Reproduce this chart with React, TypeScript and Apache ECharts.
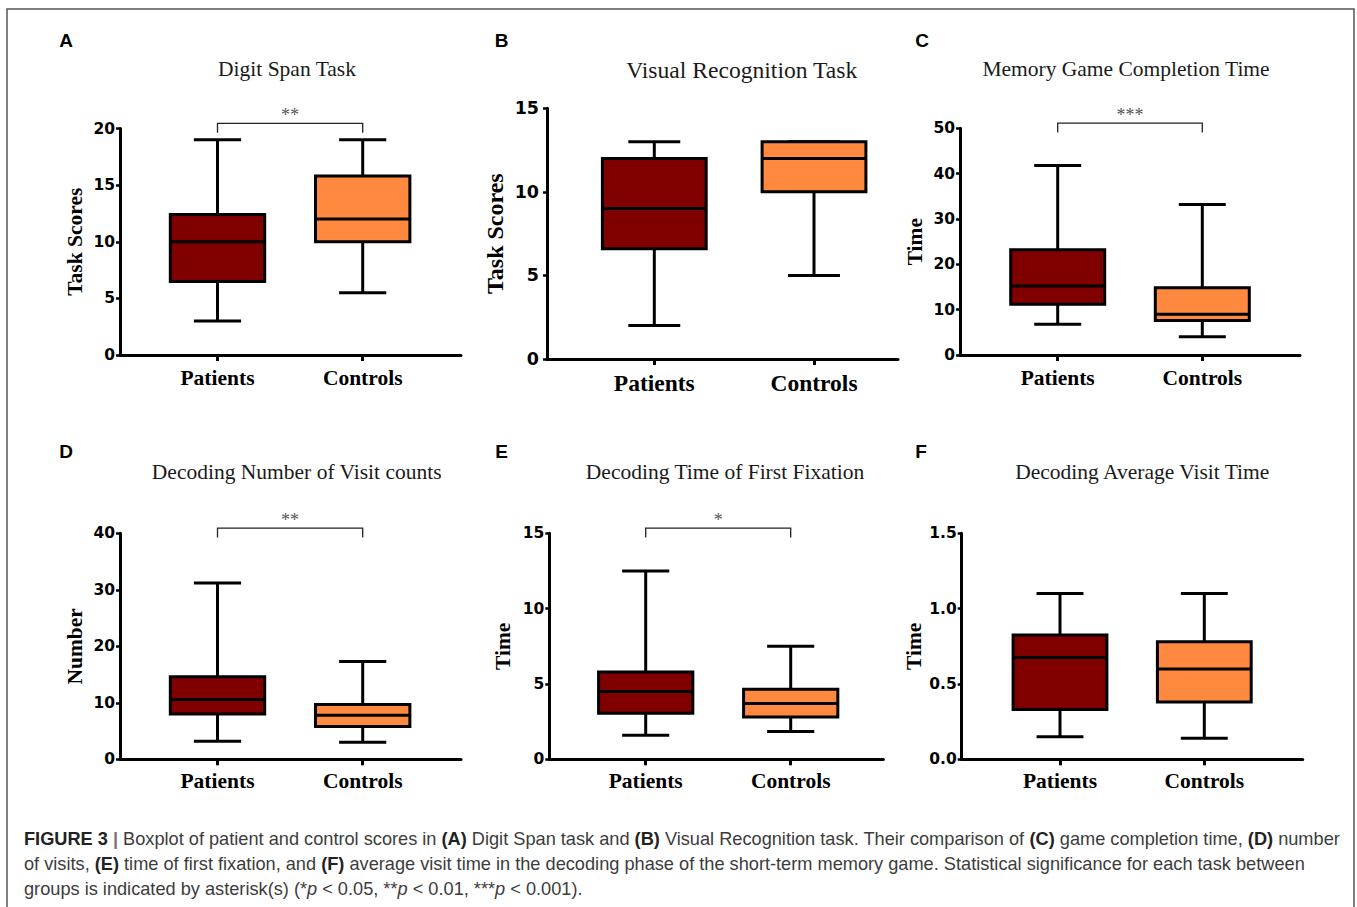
import React, { useEffect, useRef } from "react";
import * as echarts from "echarts";

// ---------- data ----------
const categories = ["Patients", "Controls"];
const panelLetters = ["A", "B", "C", "D", "E", "F"];
const panelTitles = [
  "Digit Span Task",
  "Visual Recognition Task",
  "Memory Game Completion Time",
  "Decoding Number of Visit counts",
  "Decoding Time of First Fixation",
  "Decoding Average Visit Time",
];
const yAxisNames = ["Task Scores", "Task Scores", "Time", "Number", "Time", "Time"];
const yAxisMax = [20, 15, 50, 40, 15, 1.5];
const yAxisStep = [5, 5, 10, 10, 5, 0.5];
const yAxisDecimals = [0, 0, 0, 0, 0, 1];
// [min, Q1, median, Q3, max]
const patientsStats = [
  [3, 6.5, 10, 12.4, 19],
  [2, 6.6, 9, 12, 13],
  [6.8, 11.2, 15.2, 23.2, 41.8],
  [3.2, 8.0, 10.6, 14.6, 31.2],
  [1.6, 3.05, 4.5, 5.8, 12.5],
  [0.15, 0.33, 0.675, 0.825, 1.1],
];
const controlsStats = [
  [5.5, 10, 12, 15.8, 19],
  [5, 10, 12, 13, 13],
  [4.0, 7.6, 9.0, 14.85, 33.2],
  [3.0, 5.8, 7.8, 9.7, 17.3],
  [1.85, 2.8, 3.7, 4.65, 7.5],
  [0.14, 0.38, 0.6, 0.78, 1.1],
];
const significance = ["**", "", "***", "**", "*", ""];

// ---------- layout / style ----------
const PAT_COLOR = "#800000";
const CON_COLOR = "#FF8A3F";
// L: y-axis x, R: x-axis end, T: top of y axis, B: x axis y, p1/p2: category centres
const layout = [
  { L: 120, R: 461, T: 128.5, B: 355, p1: 217.5, p2: 362.7, letter: [66, 40], title: [287, 69], big: false, nameGap: 34 },
  { L: 547, R: 898, T: 108.3, B: 359, p1: 654.3, p2: 814, letter: [501.5, 40], title: [741.7, 70], big: true, nameGap: 40 },
  { L: 960, R: 1300, T: 128.3, B: 355, p1: 1057.7, p2: 1202.3, letter: [922, 40], title: [1126, 69], big: false, nameGap: 34 },
  { L: 120, R: 461, T: 533.3, B: 759.3, p1: 217.5, p2: 362.7, letter: [66, 451.5], title: [296.7, 472.3], big: false, nameGap: 34 },
  { L: 549.3, R: 883.3, T: 533.3, B: 759.3, p1: 645.7, p2: 790.7, letter: [501.5, 451.5], title: [725, 472.3], big: false, nameGap: 35 },
  { L: 961.7, R: 1302.7, T: 533.3, B: 759.3, p1: 1060, p2: 1204.3, letter: [921, 451.5], title: [1142.3, 472.3], big: false, nameGap: 37 },
];

const SERIF = '"Liberation Serif", "Times New Roman", serif';
const SANS = '"Liberation Sans", Arial, sans-serif';
const CAP = 18.2;

function renderBox(params: any, api: any) {
  const x = api.value(0);
  const vMin = api.value(1);
  const vQ1 = api.value(2);
  const vMed = api.value(3);
  const vQ3 = api.value(4);
  const vMax = api.value(5);
  const unit = api.size([1, 0])[0];
  const bw = unit * 0.65;
  const cw = bw * 0.5;
  const [cx, yMin] = api.coord([x, vMin]);
  const yQ1 = api.coord([x, vQ1])[1];
  const yMed = api.coord([x, vMed])[1];
  const yQ3 = api.coord([x, vQ3])[1];
  const yMax = api.coord([x, vMax])[1];
  const fill = params.dataIndex === 0 ? PAT_COLOR : CON_COLOR;
  const ls = { stroke: "#000", lineWidth: 3 };
  return {
    type: "group",
    children: [
      { type: "line", shape: { x1: cx, y1: yMax, x2: cx, y2: yQ3 }, style: ls },
      { type: "line", shape: { x1: cx, y1: yQ1, x2: cx, y2: yMin }, style: ls },
      { type: "line", shape: { x1: cx - cw / 2, y1: yMax, x2: cx + cw / 2, y2: yMax }, style: ls },
      { type: "line", shape: { x1: cx - cw / 2, y1: yMin, x2: cx + cw / 2, y2: yMin }, style: ls },
      { type: "rect", shape: { x: cx - bw / 2, y: yQ3, width: bw, height: yQ1 - yQ3 }, style: { fill, stroke: "#000", lineWidth: 3 } },
      { type: "line", shape: { x1: cx - bw / 2, y1: yMed, x2: cx + bw / 2, y2: yMed }, style: ls },
    ],
  };
}

function makeBracketRenderer(sig: string) {
  return (params: any, api: any) => {
    const top = api.value(2);
    const a = api.coord([api.value(0), top]);
    const b = api.coord([api.value(1), top]);
    const y = a[1] - 5.2;
    const leg = 9.4;
    return {
      type: "group",
      children: [
        {
          type: "polyline",
          shape: { points: [[a[0], y + leg], [a[0], y], [b[0], y], [b[0], y + leg]] },
          style: { stroke: "#222", lineWidth: 1.3, fill: "none" },
        },
        {
          type: "text",
          style: {
            text: sig,
            x: (a[0] + b[0]) / 2,
            y: y - 8,
            align: "center",
            verticalAlign: "middle",
            fontFamily: SERIF,
            fontSize: 18,
            fill: "#555",
          },
        },
      ],
    };
  };
}

export default function App() {
  const ref = useRef<HTMLDivElement>(null);
  useEffect(() => {
    if (!ref.current) return;
    const chart = echarts.init(ref.current, null, { renderer: "svg" });

    const grids: any[] = [];
    const xAxes: any[] = [];
    const yAxes: any[] = [];
    const series: any[] = [];
    const graphics: any[] = [];

    layout.forEach((p, i) => {
      const unit = p.p2 - p.p1;
      const xmin = 1 - (p.p1 - p.L) / unit;
      const xmax = 2 + (p.R - p.p2) / unit;
      const tickFont = p.big ? 17.5 : 15.5;
      const labelFont = p.big ? 23.5 : 21.5;
      grids.push({ left: p.L, top: p.T, width: p.R - p.L, height: p.B - p.T, containLabel: false });
      xAxes.push({
        gridIndex: i,
        type: "value",
        min: xmin,
        max: xmax,
        axisLine: { show: true, onZero: false, lineStyle: { color: "#000", width: 3 } },
        axisTick: { show: true, customValues: [1, 2], length: 6, lineStyle: { color: "#000", width: 3 } },
        axisLabel: {
          customValues: [1, 2],
          formatter: (v: number) => categories[Math.round(v) - 1] || "",
          fontFamily: SERIF,
          fontWeight: "bold",
          fontSize: labelFont,
          color: "#000",
          margin: i < 3 ? 12 : 11,
        },
        splitLine: { show: false },
      });
      yAxes.push({
        gridIndex: i,
        type: "value",
        min: 0,
        max: yAxisMax[i],
        interval: yAxisStep[i],
        axisLine: { show: true, lineStyle: { color: "#000", width: 3 } },
        axisTick: { show: true, inside: false, length: 4, lineStyle: { color: "#000", width: 2.5 } },
        axisLabel: {
          formatter: (v: number) => v.toFixed(yAxisDecimals[i]),
          fontFamily: '"DejaVu Sans", sans-serif',
          fontWeight: "bold",
          fontSize: tickFont,
          color: "#000",
          margin: p.big ? 8 : 5,
        },
        splitLine: { show: false },
        name: yAxisNames[i],
        nameLocation: "middle",
        nameRotate: 90,
        nameGap: p.nameGap,
        nameTextStyle: { fontFamily: SERIF, fontWeight: "bold", fontSize: p.big ? 24 : 21.5, color: "#000" },
      });
      series.push({
        type: "custom",
        name: panelTitles[i],
        xAxisIndex: i,
        yAxisIndex: i,
        clip: false,
        renderItem: renderBox,
        encode: { x: 0, y: [1, 2, 3, 4, 5] },
        data: [
          [1, ...patientsStats[i]],
          [2, ...controlsStats[i]],
        ],
      });
      if (significance[i]) {
        series.push({
          type: "custom",
          xAxisIndex: i,
          yAxisIndex: i,
          clip: false,
          z: 5,
          encode: { x: [0, 1], y: 2 },
          renderItem: makeBracketRenderer(significance[i]),
          data: [[1, 2, yAxisMax[i]]],
        });
      }
      graphics.push({
        type: "text",
        x: p.letter[0],
        y: p.letter[1],
        style: {
          text: panelLetters[i],
          align: "center",
          verticalAlign: "middle",
          fontFamily: SANS,
          fontWeight: "bold",
          fontSize: 19,
          fill: "#000",
        },
      });
      graphics.push({
        type: "text",
        x: p.title[0],
        y: p.title[1],
        style: {
          text: panelTitles[i],
          align: "center",
          verticalAlign: "middle",
          fontFamily: SERIF,
          fontSize: p.big ? 23.6 : 21.5,
          fill: "#1a1a1a",
        },
      });
    });

    // frame
    graphics.push({
      type: "rect",
      z: -1,
      shape: { x: 7, y: 9, width: 1347, height: 930 },
      style: { fill: "none", stroke: "#555", lineWidth: 1.5 },
    });

    const rich = {
      h: { fontFamily: SANS, fontWeight: "bold", fontSize: CAP, fill: "#222" },
      bar: { fontFamily: SANS, fontWeight: "bold", fontSize: CAP, fill: "#777" },
      b: { fontFamily: SANS, fontWeight: "bold", fontSize: CAP, fill: "#222" },
      n: { fontFamily: SANS, fontSize: CAP, fill: "#3c3c3c" },
      i: { fontFamily: SANS, fontStyle: "italic", fontSize: CAP, fill: "#3c3c3c" },
    };
    const captionLines = [
      "{h|FIGURE 3 }{bar||}{n| Boxplot of patient and control scores in }{b|(A)}{n| Digit Span task and }{b|(B)}{n| Visual Recognition task. Their comparison of }{b|(C)}{n| game completion time, }{b|(D)}{n| number}",
      "{n|of visits, }{b|(E)}{n| time of first fixation, and }{b|(F)}{n| average visit time in the decoding phase of the short-term memory game. Statistical significance for each task between}",
      "{n|groups is indicated by asterisk(s) (*}{i|p}{n| < 0.05, **}{i|p}{n| < 0.01, ***}{i|p}{n| < 0.001).}",
    ];
    captionLines.forEach((t, k) => {
      graphics.push({
        type: "text",
        x: 24,
        y: 839 + k * 25,
        style: { text: t, rich, align: "left", verticalAlign: "middle", fontFamily: SANS, fontSize: CAP, fill: "#3c3c3c" },
      });
    });

    chart.setOption({
      animation: false,
      backgroundColor: "#fff",
      grid: grids,
      xAxis: xAxes,
      yAxis: yAxes,
      series,
      graphic: graphics,
    });
    return () => chart.dispose();
  }, []);
  return (
    <div
      ref={ref}
      style={{ position: "absolute", left: 0, top: 0, width: 1357, height: 907 }}
    />
  );
}
